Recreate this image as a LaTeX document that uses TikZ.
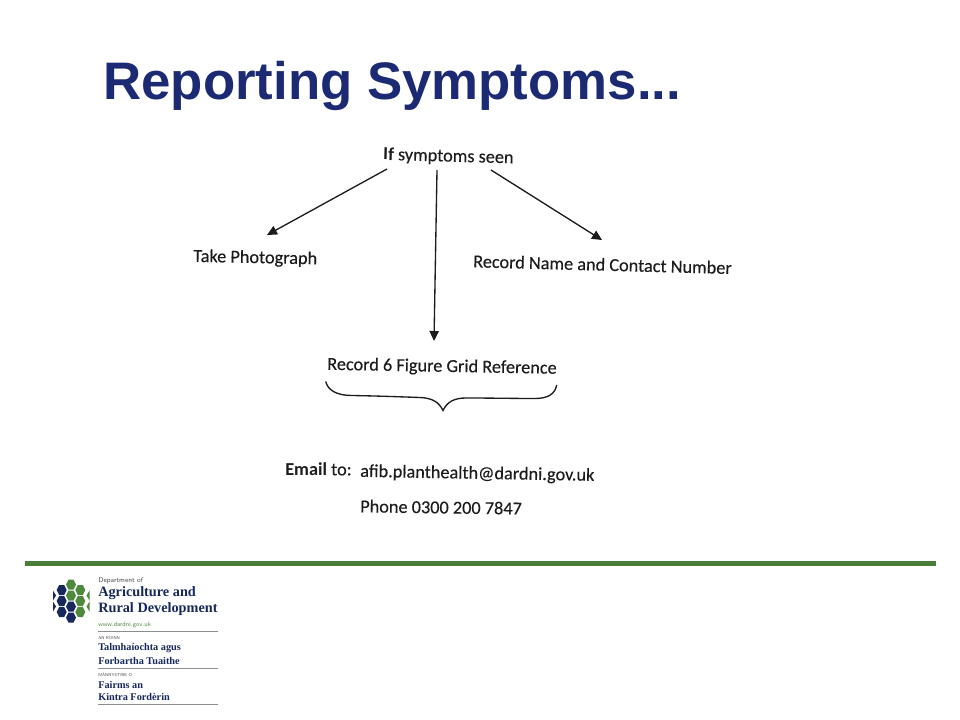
\documentclass[tikz,border=0pt]{standalone}
\usepackage{fontspec}
\setmainfont{Carlito}
\newfontfamily\titlefont{Liberation Sans}
\newfontfamily\logoserif{Liberation Serif}
\newfontfamily\scanfont[FakeBold=0.25]{Carlito}
\usetikzlibrary{arrows.meta}
\definecolor{titleblue}{HTML}{1B2A73}
\definecolor{bargreen}{HTML}{4A7C3A}
\definecolor{logonavy}{HTML}{16285C}
\definecolor{logogreen}{HTML}{4F8A3C}
\definecolor{inkc}{HTML}{1C1C1C}
\definecolor{rulegrey}{HTML}{8A8C90}
\tikzset{
  scan/.style={inner sep=0pt,anchor=west,text=inkc,font=\scanfont\fontsize{13.7pt}{16pt}\selectfont},
  flow/.style={line width=1pt,draw=inkc,-{Triangle[length=7.5pt,width=7pt]}},
  logosmall/.style={inner sep=0pt,anchor=west,text=black!70,font=\sffamily\fontsize{5.2pt}{6pt}\selectfont},
  logotiny/.style={inner sep=0pt,anchor=west,text=black!70,font=\sffamily\fontsize{3.2pt}{4pt}\selectfont},
  logoweb/.style={inner sep=0pt,anchor=west,text=logogreen,font=\sffamily\fontsize{4.7pt}{6pt}\selectfont},
  logobig/.style={inner sep=0pt,anchor=west,text=logonavy,font=\logoserif\bfseries\fontsize{10.7pt}{12pt}\selectfont},
  logomid/.style={inner sep=0pt,anchor=west,text=logonavy,font=\logoserif\bfseries\fontsize{7.7pt}{9pt}\selectfont},
  logorule/.style={draw=rulegrey,line width=0.6pt}
}
\newcommand{\hexcell}[3]{\fill[#3] (#1+5,#2) -- (#1+2.5,#2-5) -- (#1-2.5,#2-5) -- (#1-5,#2) -- (#1-2.5,#2+5) -- (#1+2.5,#2+5) -- cycle;}
\begin{document}
\begin{tikzpicture}[x=0.75pt,y=-0.75pt]
\useasboundingbox (0,0) rectangle (960,720);
\fill[white] (0,0) rectangle (960,720);
\node[inner sep=0pt,anchor=west,text=titleblue,font=\titlefont\bfseries\fontsize{39.6pt}{46pt}\selectfont] (title) at (103,86) {Reporting Symptoms...};

\node[scan,rotate=-1.5] (sym) at (383,155) {{\fontspec{Carlito}\bfseries If} symptoms seen};
\node[scan,rotate=-1.2] (photo) at (193,257) {Take Photograph};
\node[scan,rotate=-1.5] (name) at (473,261) {Record Name and Contact Number};
\node[scan,rotate=-1] (grid) at (327,365) {Record 6 Figure Grid Reference};
\node[scan] (email) at (285,469) {{\fontspec{Carlito}\bfseries Email} to:};
\node[scan,rotate=-1] (addr) at (360,472) {afib.planthealth@dardni.gov.uk};
\node[scan,rotate=-0.8] (phone) at (360,506) {Phone 0300 200 7847};

\coordinate (s1) at (387,169);
\coordinate (s2) at (437,170);
\coordinate (s3) at (491,170);
\coordinate (e1) at (267,235);
\coordinate (e2) at (434,341);
\coordinate (e3) at (602,240);
\draw[flow] (s1) -- (e1);
\draw[flow] (s2) -- (e2);
\draw[flow] (s3) -- (e3);

\draw[line width=1pt,draw=inkc] (325.7,381.5) .. controls (328,391) and (338,395.5) .. (352,395.5)
  .. controls (380,396) and (405,397) .. (420,397.5)
  .. controls (432,398) and (439,402) .. (443,410.5)
  .. controls (447,402) and (454,398) .. (466,398)
  .. controls (490,398) and (515,398.5) .. (535,398.5)
  .. controls (548,398.5) and (555,394) .. (556.7,385);

\fill[bargreen] (25,560.5) rectangle (936,566);

% logo
\hexcell{71}{584.5}{logogreen}
\hexcell{61.7}{590}{logonavy}
\hexcell{80.3}{590}{logogreen}
\hexcell{71}{595.5}{logogreen}
\hexcell{61.7}{601}{logonavy}
\hexcell{80.3}{601}{logogreen}
\hexcell{71}{606.5}{logonavy}
\hexcell{61.7}{612}{logonavy}
\hexcell{80.3}{612}{logogreen}
\hexcell{71}{617.5}{logonavy}
\fill[logonavy] (53,590.5) -- (56,595.5) -- (53,600.5) -- cycle;
\fill[logonavy] (53,601.5) -- (56,606.5) -- (53,611.5) -- cycle;
\fill[logogreen] (89.5,590.5) -- (86.5,595.5) -- (89.5,600.5) -- cycle;
\fill[logogreen] (89.5,601.5) -- (86.5,606.5) -- (89.5,611.5) -- cycle;

\node[logosmall] (dept) at (98,580.5) {Department of};
\node[logobig] (agri) at (98,593.5) {Agriculture and};
\node[logobig] (rural) at (98,609.5) {Rural Development};
\node[logoweb] (web) at (98,624.5) {www.dardni.gov.uk};
\draw[logorule] (98,631.5) -- (218,631.5);
\node[logotiny] (anr) at (98,638.5) {AN ROINN};
\node[logomid] (tal) at (98,648.5) {Talmhaíochta agus};
\node[logomid] (forb) at (98,660.5) {Forbartha Tuaithe};
\draw[logorule] (98,668) -- (218,668);
\node[logotiny] (man) at (98,674.5) {MÄNNYSTRIE O};
\node[logomid] (fai) at (98,684.5) {Fairms an};
\node[logomid] (kin) at (98,696.5) {Kintra Fordèrin};
\draw[logorule] (98,704.5) -- (218,704.5);
\end{tikzpicture}
\end{document}
